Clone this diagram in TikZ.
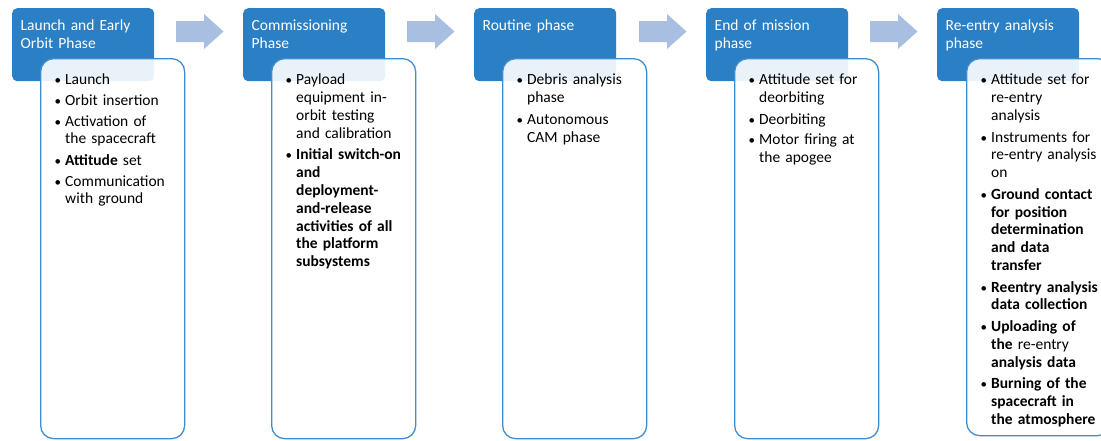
\documentclass[tikz,border=0pt]{standalone}
\usepackage{fontspec}
\setmainfont{Carlito}
\definecolor{hdrblue}{RGB}{42,127,197}
\definecolor{arrowblue}{RGB}{168,191,226}
\definecolor{edgeblue}{RGB}{64,140,208}
% one bullet item: bullet, then the lines of the item hanging beside it
\newcommand\bitem[1]{\par\noindent\makebox[10pt][l]{\hspace{-0.5pt}{\fontsize{13}{13}\selectfont\textbullet}}\parbox[t]{130pt}{\raggedright\strut#1\strut}\par}
\tikzset{
  phasehead/.style={fill=hdrblue, rounded corners=5pt, minimum width=142pt, minimum height=73pt, anchor=north west, inner sep=0pt},
  phasebody/.style={draw=edgeblue, line width=1.3pt, fill=white, fill opacity=0.9, rounded corners=13pt, minimum width=144pt, minimum height=380pt, anchor=north west, inner sep=0pt},
  headtext/.style={anchor=north west, inner sep=0pt, text=white, text width=130pt, align=left, font=\fontsize{15.5}{18}\selectfont},
  bodytext/.style={anchor=north west, inner sep=0pt, text width=140pt, font=\fontsize{15.5}{17.8}\selectfont, execute at begin node={\setlength{\parskip}{2.8pt}}},
  flowarrow/.style={fill=arrowblue}
}
% block arrow between two phases, starting at horizontal position #1
\newcommand\flowarrowat[1]{%
  \fill[flowarrow] (#1,21) -- (#1+28,21) -- (#1+28,14) -- (#1+47.5,31.5) -- (#1+28,49) -- (#1+28,42) -- (#1,42) -- cycle;}
\begin{document}
\begin{tikzpicture}[x=1pt,y=-1pt]
\useasboundingbox (0,0) rectangle (1101,440);
\clip (0,0) rectangle (1101,440);

% phase 1
\node[phasehead] (h1) at (12,8) {};
\node[phasebody] (c1) at (40,58) {};
\node[headtext] (t1) at (20.5,18) {\strut Launch and Early\\Orbit Phase};
\node[bodytext] (b1) at (55,64) {%
  \bitem{Launch}
  \bitem{Orbit insertion}
  \bitem{Activation of\\the spacecraft}
  \bitem{\textbf{Attitude} set}
  \bitem{Communication\\with ground}};

% phase 2
\node[phasehead] (h2) at (243,8) {};
\node[phasebody] (c2) at (271,58) {};
\node[headtext] (t2) at (251.5,18) {\strut Commissioning\\Phase};
\node[bodytext] (b2) at (286,64) {%
  \bitem{Payload\\equipment in-\\orbit testing\\and calibration}
  \bitem{\textbf{Initial switch-on\\and\\deployment-\\and-release\\activities of all\\the platform\\subsystems}}};

% phase 3
\node[phasehead] (h3) at (474,8) {};
\node[phasebody] (c3) at (502,58) {};
\node[headtext] (t3) at (482.5,18) {\strut Routine phase};
\node[bodytext] (b3) at (517,64) {%
  \bitem{Debris analysis\\phase}
  \bitem{Autonomous\\CAM phase}};

% phase 4
\node[phasehead] (h4) at (706,8) {};
\node[phasebody] (c4) at (734,58) {};
\node[headtext] (t4) at (714.5,18) {\strut End of mission\\phase};
\node[bodytext] (b4) at (749,64) {%
  \bitem{Attitude set for\\deorbiting}
  \bitem{Deorbiting}
  \bitem{Motor firing at\\the apogee}};

% phase 5
\node[phasehead] (h5) at (937,8) {};
\node[phasebody, minimum height=377pt] (c5) at (966,58) {};
\node[headtext] (t5) at (945.5,18) {\strut Re-entry analysis\\phase};
\node[bodytext] (b5) at (981,64) {%
  \bitem{Attitude set for\\re-entry\\analysis}
  \bitem{Instruments for\\re-entry analysis\\on}
  \bitem{\textbf{Ground contact\\for position\\determination\\and data\\transfer}}
  \bitem{\textbf{Reentry analysis\\data collection}}
  \bitem{\textbf{Uploading of\\the} re-entry\\\textbf{analysis data}}
  \bitem{\textbf{Burning of the\\spacecraft in\\the atmosphere}}};

% arrows between phases
\flowarrowat{176}
\flowarrowat{407}
\flowarrowat{639}
\flowarrowat{870}
\end{tikzpicture}
\end{document}
